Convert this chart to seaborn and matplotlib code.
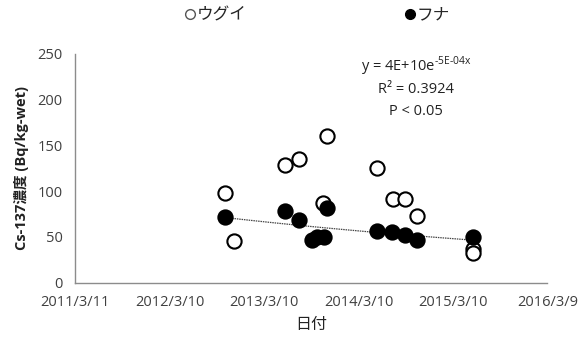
import numpy as np
import pandas as pd
import matplotlib
matplotlib.use("Agg")
import matplotlib.pyplot as plt
import matplotlib.dates as mdates
from matplotlib.lines import Line2D
import seaborn as sns

# ---- data ----
ugui_dates = ["2012-10-10", "2012-11-15", "2013-05-30", "2013-07-23", "2013-10-25", "2013-11-07",
              "2014-05-22", "2014-07-23", "2014-09-06", "2014-10-21", "2015-05-28", "2015-05-27"]
ugui_cs = [98, 46, 129, 135, 87, 160, 125, 91, 91, 73, 37, 33]

funa_dates = ["2012-10-10", "2013-05-30", "2013-07-24", "2013-09-10", "2013-09-29", "2013-10-28",
              "2013-11-07", "2014-05-22", "2014-07-16", "2014-09-06", "2014-10-23", "2015-05-28"]
funa_cs = [72, 78, 69, 47, 50, 50, 82, 56, 55, 52, 47, 50]

tick_dates = ["2011-03-11", "2012-03-10", "2013-03-10", "2014-03-10", "2015-03-10", "2016-03-09"]
tick_labels = ["2011/3/11", "2012/3/10", "2013/3/10", "2014/3/10", "2015/3/10", "2016/3/9"]
y_ticks = [0, 50, 100, 150, 200, 250]

ugui = pd.DataFrame({"date": pd.to_datetime(ugui_dates), "cs": ugui_cs})
funa = pd.DataFrame({"date": pd.to_datetime(funa_dates), "cs": funa_cs})

sns.set_style("white")
plt.rcParams["font.family"] = ["Open Sans", "Noto Sans CJK JP", "DejaVu Sans"]
plt.rcParams["mathtext.fontset"] = "custom"
plt.rcParams["mathtext.rm"] = "Open Sans"

fig = plt.figure(figsize=(5.82, 3.43), dpi=100)
ax = fig.add_axes([0.1294, 0.1758, 0.811, 0.6668])

sns.scatterplot(data=ugui, x="date", y="cs", ax=ax, marker="o", s=105,
                color="white", edgecolor="black", linewidth=1.5, zorder=3)
sns.scatterplot(data=funa, x="date", y="cs", ax=ax, marker="o", s=105,
                color="black", edgecolor="black", linewidth=1.5, zorder=4)

# exponential trendline fitted on フナ (like Excel)
xd = mdates.date2num(funa["date"])
b, a = np.polyfit(xd, np.log(funa["cs"]), 1)
xs = np.linspace(xd.min(), xd.max(), 50)
ax.plot(mdates.num2date(xs), np.exp(a + b * xs), color="#444444", lw=0.9,
        linestyle=(0, (1.2, 0.7)), zorder=2)

ax.set_xlim(pd.Timestamp(tick_dates[0]), pd.Timestamp(tick_dates[-1]))
ax.set_xticks(pd.to_datetime(tick_dates))
ax.set_xticklabels(tick_labels)
ax.set_ylim(0, 250)
ax.set_yticks(y_ticks)

for s in ["top", "right"]:
    ax.spines[s].set_visible(False)
for s in ["left", "bottom"]:
    ax.spines[s].set_color("#8c8c8c")
    ax.spines[s].set_linewidth(1)
ax.tick_params(axis="both", direction="out", length=4, width=1, color="#8c8c8c",
               labelsize=10.5, labelcolor="#404040", pad=5)

ax.set_xlabel("日付", fontsize=11.5, color="#222222", labelpad=5)
ax.set_ylabel("Cs-137濃度 (Bq/kg-wet)", fontsize=10.5, fontweight="bold",
              color="#222222", labelpad=6)

ax.text(0.721, 0.945, r"y = 4E+10e$^{\text{-5E-04x}}$", transform=ax.transAxes,
        ha="center", va="center", fontsize=10.5, color="#222222")
ax.text(0.721, 0.845, "R² = 0.3924", transform=ax.transAxes,
        ha="center", va="center", fontsize=10.5, color="#222222")
ax.text(0.721, 0.75, "P < 0.05", transform=ax.transAxes,
        ha="center", va="center", fontsize=10.5, color="#222222")

handles = [Line2D([], [], marker="o", ls="", ms=7, mfc="white", mec="#555555", mew=1),
           Line2D([], [], marker="o", ls="", ms=7, mfc="black", mec="black")]
fig.legend(handles, ["ウグイ", "フナ"], loc="center", bbox_to_anchor=(0.545, 0.955),
           ncol=2, frameon=False, fontsize=12, handlelength=0.6, handletextpad=0.1,
           columnspacing=9.5)

fig.savefig("out.png", dpi=100)
